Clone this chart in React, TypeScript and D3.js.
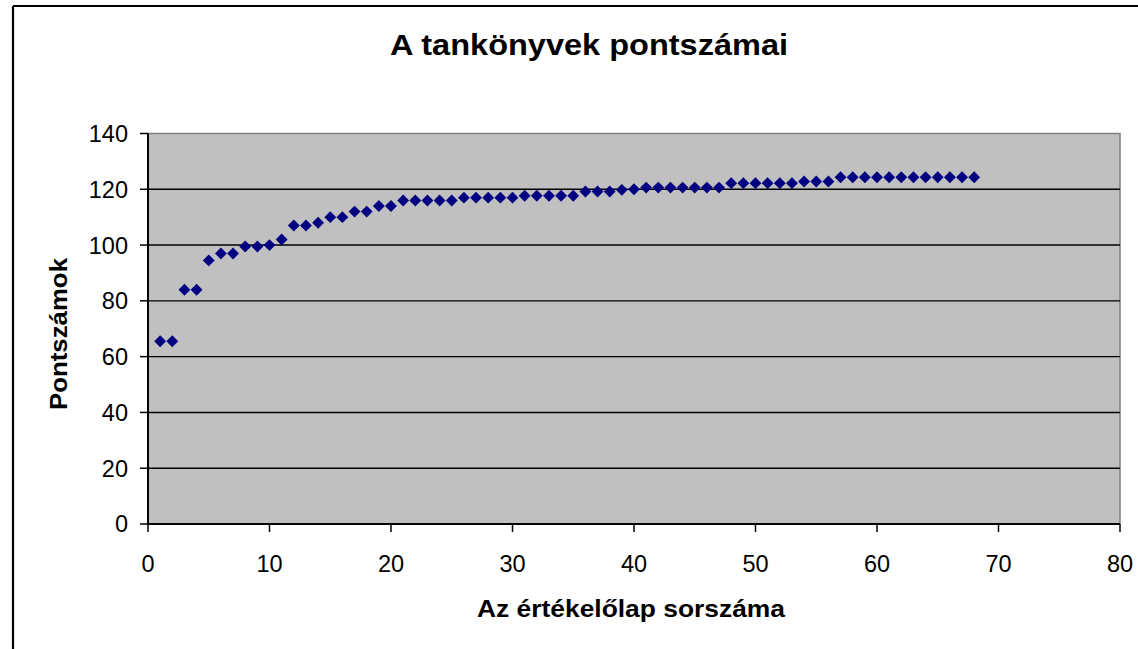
import * as React from 'react';
import * as d3 from 'd3';

// score of each textbook, by evaluation sheet number (1..68)
const sheetNumbers = d3.range(1, 69);
const scores = [
  65.5, 65.5, 84, 84, 94.5, 97, 97, 99.5, 99.5, 100,
  102, 107, 107, 108, 110, 110, 112, 112, 114, 114,
  116, 116, 116, 116, 116, 117, 117, 117, 117, 117,
  117.7, 117.7, 117.7, 117.7, 117.7, 119.2, 119.2, 119.2, 119.8, 120,
  120.6, 120.6, 120.6, 120.6, 120.6, 120.6, 120.6, 122.2, 122.2, 122.2,
  122.2, 122.2, 122.2, 122.8, 122.8, 122.8, 124.3, 124.3, 124.3, 124.3,
  124.3, 124.3, 124.3, 124.3, 124.3, 124.3, 124.3, 124.3,
];
const xTicks = [0, 10, 20, 30, 40, 50, 60, 70, 80];
const yTicks = [0, 20, 40, 60, 80, 100, 120, 140];

const title = 'A tankönyvek pontszámai';
const xTitle = 'Az értékelőlap sorszáma';
const yTitle = 'Pontszámok';

const width = 1138;
const height = 649;
const plot = { left: 148, right: 1120, top: 133.5, bottom: 524 };
const font = '"Liberation Sans", Arial, sans-serif';

export default function App() {
  const x = d3.scaleLinear().domain([0, 80]).range([plot.left, plot.right]);
  const y = d3.scaleLinear().domain([0, 140]).range([plot.bottom, plot.top]);
  const diamond = d3.symbol().type(d3.symbolDiamond2).size(90)();

  return (
    <svg
      width={width}
      height={height}
      style={{ position: 'absolute', left: 0, top: 0, display: 'block' }}
      fontFamily={font}
    >
      <rect x={0} y={0} width={width} height={height} fill="#fff" />
      {/* chart frame */}
      <line x1={13} y1={6} x2={width} y2={6} stroke="#000" strokeWidth={2.2} />
      <line x1={13} y1={6} x2={13} y2={height} stroke="#000" strokeWidth={2.2} />

      <text x={589} y={55} textAnchor="middle" fontSize={29} fontWeight="bold"
        textLength={398} lengthAdjust="spacingAndGlyphs">
        {title}
      </text>

      {/* plot area */}
      <rect
        x={plot.left}
        y={plot.top}
        width={plot.right - plot.left}
        height={plot.bottom - plot.top}
        fill="#c0c0c0"
        stroke="#808080"
        strokeWidth={1.5}
      />
      {yTicks.slice(1, -1).map(t => (
        <line key={'g' + t} x1={plot.left} x2={plot.right} y1={y(t)} y2={y(t)} stroke="#000" strokeWidth={1.4} />
      ))}

      {/* y axis */}
      <line x1={plot.left} x2={plot.left} y1={plot.top} y2={plot.bottom} stroke="#000" strokeWidth={2} />
      {yTicks.map(t => (
        <g key={'y' + t}>
          <line x1={plot.left - 8} x2={plot.left} y1={y(t)} y2={y(t)} stroke="#000" strokeWidth={1.5} />
          <text x={plot.left - 20} y={y(t)} dy="0.36em" textAnchor="end" fontSize={23.5}>
            {t}
          </text>
        </g>
      ))}

      {/* x axis */}
      <line x1={plot.left} x2={plot.right} y1={plot.bottom} y2={plot.bottom} stroke="#000" strokeWidth={2} />
      {xTicks.map(t => (
        <g key={'x' + t}>
          <line x1={x(t)} x2={x(t)} y1={plot.bottom} y2={plot.bottom + 8} stroke="#000" strokeWidth={1.5} />
          <text x={x(t)} y={plot.bottom + 48} textAnchor="middle" fontSize={23.5}>
            {t}
          </text>
        </g>
      ))}

      <text x={631} y={617} textAnchor="middle" fontSize={24} fontWeight="bold"
        textLength={308} lengthAdjust="spacingAndGlyphs">
        {xTitle}
      </text>
      <text
        transform={`translate(67,${334}) rotate(-90)`}
        textAnchor="middle"
        fontSize={24}
        fontWeight="bold"
        textLength={152}
        lengthAdjust="spacingAndGlyphs"
      >
        {yTitle}
      </text>

      {/* data */}
      {scores.map((v, i) => (
        <path
          key={i}
          d={diamond || ''}
          transform={`translate(${x(sheetNumbers[i])},${y(v)})`}
          fill="#000080"
        />
      ))}
    </svg>
  );
}
